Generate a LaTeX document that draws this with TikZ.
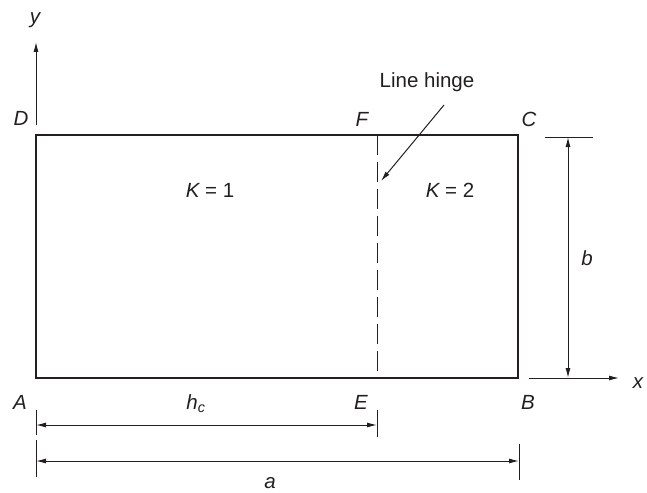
\documentclass[tikz,border=0pt]{standalone}
\usepackage{fontspec}
\setmainfont{Liberation Sans}
\usetikzlibrary{arrows.meta}
\definecolor{ink}{HTML}{231F20}
\begin{document}
\begin{tikzpicture}[x=1pt,y=-1pt,
  every node/.style={text=ink,font=\fontsize{20.5}{24}\selectfont,inner sep=0pt},
  lbl/.style={font=\fontsize{20.5}{24}\selectfont\itshape},
  plate/.style={draw=ink,line width=1.5pt},
  hinge/.style={draw=ink,line width=1pt,dash pattern=on 20pt off 7pt},
  axis/.style={draw=ink,line width=1pt,-{Latex[length=10pt,width=5pt]}},
  dim/.style={draw=ink,line width=1pt,{Latex[length=10pt,width=5pt]}-{Latex[length=10pt,width=5pt]}},
  tick/.style={draw=ink,line width=1pt}]
\useasboundingbox (0,0) rectangle (647,492);
% corners
\coordinate (A) at (36,378);
\coordinate (B) at (518,378);
\coordinate (C) at (518,135);
\coordinate (D) at (36,135);
\coordinate (E) at (377,378);
\coordinate (F) at (377,135);
% plate
\draw[plate] (A) rectangle (C);
\coordinate (Ebot) at (377,371);
\draw[hinge] (F) -- (Ebot);
% axes
\coordinate (y0) at (36,125);
\coordinate (y1) at (36,42);
\draw[axis] (y0) -- (y1);
\coordinate (x0) at (529,378);
\coordinate (x1) at (619,378);
\draw[axis] (x0) -- (x1);
\node[lbl] (ylab) at (35,20) {y};
\node[lbl] (xlab) at (638,383) {x};
% corner labels
\node[lbl] (Dl) at (21,118) {D};
\node[lbl] (Fl) at (362,119) {F};
\node[lbl] (Cl) at (529,119) {C};
\node[lbl] (Al) at (20,402) {A};
\node[lbl] (El) at (361,402) {E};
\node[lbl] (Bl) at (528,402) {B};
% region labels
\node (K1) at (210,190) {\itshape K\upshape\ = 1};
\node (K2) at (450,190) {\itshape K\upshape\ = 2};
% line hinge
\node (LH) at (427,82) {Line hinge};
\coordinate (lh0) at (444,105);
\coordinate (lh1) at (381,181);
\draw[axis] (lh0) -- (lh1);
% b dimension
\coordinate (bt0) at (545,137);
\coordinate (bt1) at (593,137);
\draw[tick] (bt0) -- (bt1);
\coordinate (bd0) at (568,137);
\coordinate (bd1) at (568,378);
\draw[dim] (bd0) -- (bd1);
\node[lbl] (bl) at (587,258) {b};
% hc dimension
\coordinate (ht0a) at (36,410); \coordinate (ht0b) at (36,435);
\coordinate (ht1a) at (377,410); \coordinate (ht1b) at (377,437);
\draw[tick] (ht0a) -- (ht0b);
\draw[tick] (ht1a) -- (ht1b);
\coordinate (hd0) at (36,425); \coordinate (hd1) at (377,425);
\draw[dim] (hd0) -- (hd1);
\node[lbl] (hcl) at (196,404) {h$_{\mathit{c}}$};
% a dimension
\coordinate (at0a) at (36,440); \coordinate (at0b) at (36,477);
\coordinate (at1a) at (519,444); \coordinate (at1b) at (519,480);
\draw[tick] (at0a) -- (at0b);
\draw[tick] (at1a) -- (at1b);
\coordinate (ad0) at (36,461); \coordinate (ad1) at (519,461);
\draw[dim] (ad0) -- (ad1);
\node[lbl] (al) at (270,483) {a};
\end{tikzpicture}
\end{document}
